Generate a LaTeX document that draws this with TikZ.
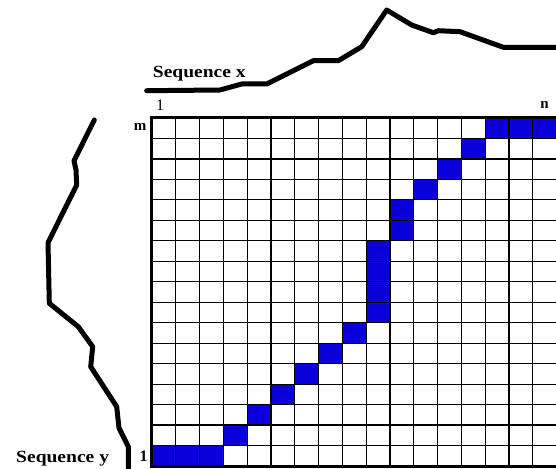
\documentclass[tikz,border=0pt]{standalone}
\usepackage{fontspec}
\usepackage{graphicx}
\setmainfont{Liberation Serif}
\definecolor{cellblue}{RGB}{10,0,220}
\tikzset{
  seqcurve/.style={line width=5pt, line join=round, line cap=round},
  gridline/.style={line width=1.2pt, black},
  border/.style={line width=3pt, black},
  seqlabel/.style={font=\fontsize{17}{20}\selectfont\bfseries, inner sep=0pt, anchor=base west},
  idxlabel/.style={font=\fontsize{15}{18}\selectfont\bfseries, inner sep=0pt},
}
\newcommand{\cw}{23.8}
\newcommand{\ch}{20.47}
\begin{document}
\begin{tikzpicture}[x=1pt,y=-1pt]
\useasboundingbox (0,0) rectangle (556,468);
\begin{scope}
\clip (0,0) rectangle (556,468);
% blue cells (column, row from bottom)
\foreach \c/\r in {0/0,1/0,2/0,3/1,4/2,5/3,6/4,7/5,8/6,9/7,9/8,9/9,9/10,10/11,10/12,11/13,12/14,13/15,14/16,15/16,16/16}
  \fill[cellblue] ({152+\cw*\c},{118+\ch*(16-\r)}) rectangle +(\cw,\ch);
% grid
\foreach \i in {1,...,16}
  \draw[gridline] ({152+\cw*\i},118) -- ({152+\cw*\i},466);
\foreach \j in {1,...,16}
  \draw[gridline] (152,{118+\ch*\j}) -- (560,{118+\ch*\j});
\draw[border] (152,117.5) -- (560,117.5);
\draw[border] (151.5,116) -- (151.5,468);
\draw[border] (150,466.5) -- (560,466.5);
% sequence curves
\draw[seqcurve] (146.7,90.7) -- (220,90) -- (241.7,84) -- (266.7,84) -- (313.3,60.7) -- (338.3,60.7) -- (361.7,46.7) -- (386.7,10) -- (411.7,25) -- (433.3,32.7) -- (438.3,30.7) -- (460,31.7) -- (503.3,47.3) -- (562,47.3);
\draw[seqcurve] (94.3,120) -- (74,160.7) -- (76,170) -- (76.7,185) -- (48,242.7) -- (49.3,303.3) -- (78.3,326.7) -- (92.7,346.7) -- (90.7,366.7) -- (116.7,406.7) -- (119,428) -- (128.3,446.7) -- (128.3,472);
\end{scope}
% labels
\node[seqlabel] (seqx) at (152.7,78) {\scalebox{1.15}[1]{Sequence x}};
\node[seqlabel] (seqy) at (16,462) {\scalebox{1.15}[1]{Sequence y}};
\node[idxlabel, font=\fontsize{16}{18}\selectfont] (onex) at (160,105.5) {1};
\node[idxlabel] (nlab) at (544.5,104.5) {n};
\node[idxlabel] (mlab) at (140,126.5) {m};
\node[idxlabel, font=\fontsize{16}{18}\selectfont\bfseries] (oney) at (143.5,456) {1};
\end{tikzpicture}
\end{document}
